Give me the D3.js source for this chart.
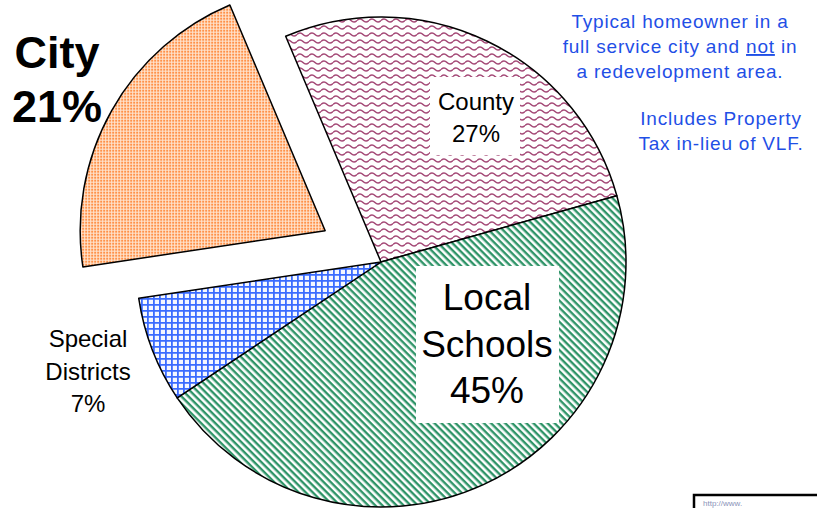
<!DOCTYPE html>
<html>
<head>
<meta charset="utf-8">
<script src="https://cdn.jsdelivr.net/npm/d3@7"></script>
<style>
  body { margin: 0; background: #fff; }
  svg { display: block; font-family: Arial, "Liberation Sans", sans-serif; }
</style>
</head>
<body>
<svg id="chart" width="817" height="508"></svg>
<script>
// slice data, in drawing order (clockwise from County)
const categories = ["County", "Local Schools", "Special Districts", "City"]
const shares = [27, 45, 7, 21]
const patternIds = ["wave", "stripe", "grid", "dots"]
const noteLines1 = ["Typical homeowner in a", "full service city and ", "a redevelopment area."]
const noteLines2 = ["Includes Property", "Tax in-lieu of VLF."]

const svg = d3.select("#chart")
const defs = svg.append("defs")

// orange dots for City
let p = defs.append("pattern").attr("id", "dots").attr("patternUnits", "userSpaceOnUse")
  .attr("width", 3).attr("height", 3)
p.append("rect").attr("width", 3).attr("height", 3).attr("fill", "#ffe6d2")
p.append("rect").attr("width", 2).attr("height", 2).attr("fill", "#ff9148")

// wavy lines for County
p = defs.append("pattern").attr("id", "wave").attr("patternUnits", "userSpaceOnUse")
  .attr("width", 12).attr("height", 7)
p.append("rect").attr("width", 12).attr("height", 7).attr("fill", "#fff")
p.append("path").attr("d", "M0,3.5 Q3,0.5 6,3.5 T12,3.5")
  .attr("fill", "none").attr("stroke", "#a34775").attr("stroke-width", 1.6)

// diagonal stripes (down-right) for Local Schools
p = defs.append("pattern").attr("id", "stripe").attr("patternUnits", "userSpaceOnUse")
  .attr("width", 5).attr("height", 5).attr("patternTransform", "rotate(45)")
p.append("rect").attr("width", 5).attr("height", 5).attr("fill", "#fff")
p.append("rect").attr("width", 5).attr("height", 2.4).attr("fill", "#2f9468")

// blue grid for Special Districts
p = defs.append("pattern").attr("id", "grid").attr("patternUnits", "userSpaceOnUse")
  .attr("width", 6).attr("height", 6)
p.append("rect").attr("width", 6).attr("height", 6).attr("fill", "#f4f7ff")
p.append("path").attr("d", "M0,0.9 H6 M0.9,0 V6")
  .attr("stroke", "#3b6cff").attr("stroke-width", 1.8)

const cx = 381, cy = 262, radius = 245
const pie = d3.pie().sort(null).value(d => d)
  .startAngle(-22.9 * Math.PI / 180).endAngle((360 - 22.9) * Math.PI / 180)
const arc = d3.arc().innerRadius(0).outerRadius(radius)
const arcs = pie(shares)

const g = svg.append("g").attr("transform", `translate(${cx},${cy})`)
g.selectAll("path.slice")
  .data(arcs)
  .join("path")
  .attr("class", "slice")
  .attr("transform", (d, i) => {
    if (categories[i] !== "City") return null
    const mid = (d.startAngle + d.endAngle) / 2
    return `translate(${Math.sin(mid) * 64},${-Math.cos(mid) * 64})`
  })
  .attr("d", arc)
  .attr("fill", (d, i) => `url(#${patternIds[i]})`)
  .attr("stroke", "#000")
  .attr("stroke-width", 1.5)
  .attr("stroke-linejoin", "round")

// labels
function label(lines, x, y, size, lh, weight, boxed) {
  const grp = svg.append("g")
  if (boxed) {
    grp.append("rect").attr("x", boxed[0]).attr("y", boxed[1])
      .attr("width", boxed[2]).attr("height", boxed[3]).attr("fill", "#fff")
  }
  const t = grp.append("text").attr("text-anchor", "middle")
    .attr("font-size", size).attr("font-weight", weight).attr("fill", "#000")
  lines.forEach((l, i) => t.append("tspan").attr("x", x).attr("y", y + i * lh).text(l))
}

label(["City", "21%"], 57, 68, 45, 54, "bold")
label(["County", "27%"], 476, 110, 24, 32, "normal", [430, 77, 90, 78])
label(["Local", "Schools", "45%"], 487, 310, 37, 46.5, "normal", [416, 266, 143, 157])
label(["Special", "Districts", "7%"], 88, 347, 24, 32.5, "normal")

// blue notes
const note = svg.append("text").attr("text-anchor", "middle")
  .attr("font-size", 19).attr("letter-spacing", 0.8).attr("fill", "#1f4fe6")
noteLines1.forEach((l, i) => {
  const ts = note.append("tspan").attr("x", 680).attr("y", 28 + i * 25).text(l)
  if (i === 1) {
    ts.append("tspan").attr("text-decoration", "underline").text("not")
    ts.append("tspan").text(" in")
  }
})
const note2 = svg.append("text").attr("text-anchor", "middle")
  .attr("font-size", 19).attr("letter-spacing", 0.8).attr("fill", "#1f4fe6")
noteLines2.forEach((l, i) => {
  note2.append("tspan").attr("x", 721).attr("y", 125 + i * 25).text(l)
})

// cut-off box at bottom right
svg.append("rect").attr("x", 694).attr("y", 495).attr("width", 130).attr("height", 20)
  .attr("fill", "#fff").attr("stroke", "#000").attr("stroke-width", 2.5)
svg.append("text").attr("x", 703).attr("y", 506).attr("font-size", 8)
  .attr("fill", "#8a93b8").text("http://www.")
</script>
</body>
</html>
